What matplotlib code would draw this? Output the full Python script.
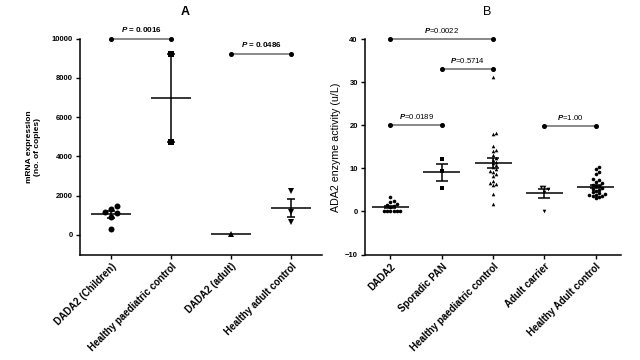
import matplotlib.pyplot as plt
import numpy as np

plt.rcParams['font.family'] = ['Liberation Sans', 'DejaVu Sans']
plt.rcParams['mathtext.fontset'] = 'custom'
plt.rcParams['mathtext.rm'] = 'Liberation Sans'
plt.rcParams['mathtext.it'] = 'Liberation Sans:italic:bold'
plt.rcParams['mathtext.bf'] = 'Liberation Sans:bold'

# panel A: mRNA expression
a_groups = ['DADA2 (Children)', 'Healthy paediatric control', 'DADA2 (adult)', 'Healthy adult control']
a_values = [
    [1490, 1320, 1170, 1100, 930, 290],
    [9200, 4750],
    [30],
    [2240, 1170, 680],
]
a_markers = ['o', 's', '^', 'v']
a_brackets = [(0, 1, 10000, 'P = 0.0016'), (2, 3, 9230, 'P = 0.0486')]

# panel B: ADA2 enzyme activity
b_groups = ['DADA2', 'Sporadic PAN', 'Healthy paediatric control', 'Adult carrier', 'Healthy Adult control']
b_values = [
    [3.3, 2.4, 2.1, 1.8, 1.6, 1.3, 1.1, 0, 0, 0, 0, 0, 0],
    [12.3, 9.5, 5.4],
    [31.3, 18.3, 18.0, 15.3, 14.3, 14.1, 13.0, 12.4, 12.0, 11.6, 11.2, 10.8,
     10.3, 9.8, 9.3, 9.1, 8.6, 8.2, 7.1, 6.7, 6.4, 6.2, 4.1, 1.7],
    [5.7, 5.6, 5.3, 4.6, 0],
    [10.3, 9.9, 9.1, 8.8, 7.6, 7.2, 6.9, 6.5, 6.2, 5.9, 5.8, 5.5, 5.3, 5.0,
     4.8, 4.5, 4.2, 4.0, 3.9, 3.8, 3.6, 3.5, 3.3, 3.1],
]
b_markers = ['o', 's', '^', 'v', 'o']
b_brackets = [(0, 2, 40, 'P=0.0022'), (1, 2, 33, 'P=0.5714'),
              (0, 1, 20.1, 'P=0.0189'), (3, 4, 19.8, 'P=1.00')]


def swarm(vals, xpx, ypx, d):
    # simple beeswarm: offsets (in x data units) so points don't overlap
    placed = []
    offs = np.zeros(len(vals))
    order = np.argsort(vals)
    cands = [0]
    for k in range(1, 20):
        cands += [k * d, -k * d]
    for i in order:
        for c in cands:
            ok = True
            for (px, py) in placed:
                if np.hypot(c - px, (vals[i] - py) * ypx) < d * 0.95:
                    ok = False
                    break
            if ok:
                offs[i] = c / xpx
                placed.append((c, vals[i]))
                break
    return offs


def draw(ax, values, markers, ms, xpx, ypx, d, half, cap):
    for i, v in enumerate(values):
        v = np.asarray(v, float)
        xs = i + swarm(v, xpx, ypx, d)
        ax.plot(xs, v, linestyle='none', marker=markers[i], ms=ms,
                color='black', mew=0, zorder=4)
        m = v.mean()
        ax.hlines(m, i - half, i + half, color='black', lw=1.1, zorder=3)
        if len(v) > 1:
            sem = v.std(ddof=1) / np.sqrt(len(v))
            ax.errorbar(i, m, yerr=sem, color='black', lw=1.1,
                        capsize=cap, capthick=1.1, zorder=3)


def brackets(ax, items, dy, fs, weight):
    for x0, x1, y, txt in items:
        ax.plot([x0, x1], [y, y], color='#808080', lw=1.3, zorder=2, clip_on=False)
        ax.plot([x0, x1], [y, y], linestyle='none', marker='o', ms=2.6,
                color='black', zorder=5, clip_on=False)
        rest = txt[1:]
        ax.text((x0 + x1) / 2, y + dy, r'$\it{P}$' + rest, ha='center', va='bottom',
                fontsize=fs, fontweight=weight)


def style(ax):
    for s in ['top', 'right']:
        ax.spines[s].set_visible(False)
    for s in ['left', 'bottom']:
        ax.spines[s].set_linewidth(1.1)
    ax.tick_params(direction='out', length=3, width=1.0, pad=2)
    ax.tick_params(axis='y', labelsize=5.5)
    for lab in ax.get_yticklabels():
        lab.set_fontweight('bold')


fig = plt.figure(figsize=(6.4, 3.6), dpi=100)

axA = fig.add_axes([0.125, 0.293, 0.378, 0.5995])
draw(axA, a_values, a_markers, 4.3, 60, 196.3 / 10000, 6, 0.33, 3)
brackets(axA, a_brackets, 250, 5.8, 'bold')
axA.set_xlim(-0.52, 3.51)
axA.set_ylim(-1000, 10000)
axA.set_yticks(np.arange(0, 10001, 2000))
axA.set_xticks(range(len(a_groups)))
style(axA)
axA.set_xticklabels(a_groups, rotation=45, ha='right', rotation_mode='anchor',
                    fontsize=7, fontweight='bold')
axA.set_ylabel('mRNA expression\n(no. of copies)', fontsize=6, fontweight='bold', labelpad=8)

axB = fig.add_axes([0.570, 0.293, 0.401, 0.598])
draw(axB, b_values, b_markers, 2.6, 51.25, 4.26, 3.2, 0.36, 4)
brackets(axB, b_brackets, 1.0, 5.6, 'normal')
axB.set_xlim(-0.5, 4.5)
axB.set_ylim(-10, 40)
axB.set_yticks(np.arange(-10, 41, 10))
axB.set_xticks(range(len(b_groups)))
style(axB)
axB.set_xticklabels(b_groups, rotation=45, ha='right', rotation_mode='anchor',
                    fontsize=7, fontweight='bold')
axB.set_ylabel('ADA2 enzyme activity (u/L)', fontsize=7.7, labelpad=3)

fig.text(185 / 640, 1 - 12 / 360, 'A', ha='center', va='center', fontsize=9, fontweight='bold')
fig.text(487 / 640, 1 - 12 / 360, 'B', ha='center', va='center', fontsize=9)

fig.savefig('out.png', dpi=100)
